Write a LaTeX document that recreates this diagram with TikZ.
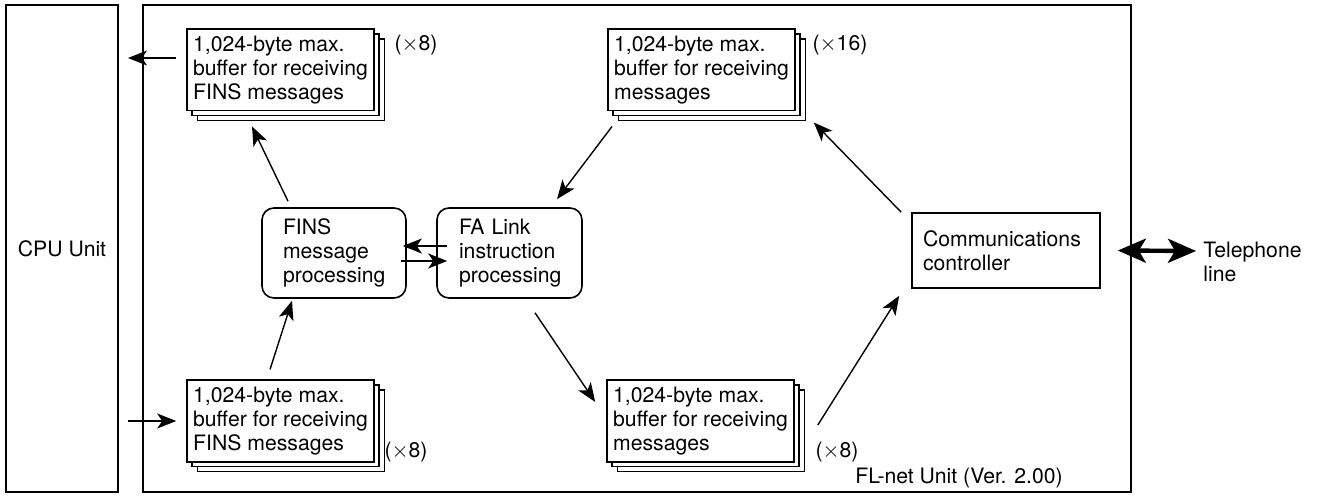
\documentclass[tikz,border=0pt]{standalone}
\usepackage{fontspec}
\setmainfont{TeX Gyre Heros}
\usetikzlibrary{arrows.meta,shadows}
\begin{document}
\begin{tikzpicture}
    [x=0.5pt,y=-0.5pt,
    font=\fontsize{10.6}{12}\selectfont,
    unit/.style={draw,line width=0.8pt,inner sep=0pt},
    buffer/.style={draw,line width=0.8pt,fill=white,align=left,
        minimum width=93.5pt,inner xsep=2pt,minimum height=37pt,
        double copy shadow={shadow xshift=2.6pt,shadow yshift=-2.4pt}},
    proc/.style={draw,line width=0.8pt,rounded corners=6pt,align=left,
        text width=51pt,inner xsep=10.5pt,minimum height=45pt},
    flow/.style={-{Stealth[length=9.5pt,width=7.5pt,inset=2.5pt]},line width=0.7pt},
    phone/.style={{Stealth[length=14pt,width=12pt,inset=3.5pt]}-{Stealth[length=14pt,width=12pt,inset=3.5pt]},line width=2.2pt}]
    \useasboundingbox (0,0) rectangle (1321,496);
    %units
    \node[unit,minimum width=56pt,minimum height=243.5pt] (cpu) at (62,248.5) {CPU Unit};
    \draw[line width=0.8pt] (143,5) rectangle (1131,492);
    \node[anchor=west,inner sep=0pt] (flnet) at (855,478) {FL-net Unit (Ver. 2.00)};
    %buffers
    \node[buffer] (bufTL) at (280.5,70) {1,024-byte max.\\buffer for receiving\\FINS messages};
    \node[buffer] (bufBL) at (280.5,421) {1,024-byte max.\\buffer for receiving\\FINS messages};
    \node[buffer] (bufTR) at (701.5,70) {1,024-byte max.\\buffer for receiving\\messages};
    \node[buffer] (bufBR) at (700.5,421) {1,024-byte max.\\buffer for receiving\\messages};
    \node (nTL) at (416,45) {($\times$8)};
    \node (nBL) at (406,452) {($\times$8)};
    \node (nTR) at (840,45) {($\times$16)};
    \node (nBR) at (837,452) {($\times$8)};
    %processing
    \node[proc] (fins) at (334,253) {FINS\\message\\processing};
    \node[proc,inner xsep=11pt,text width=50.5pt] (fa) at (509.5,253) {FA Link\\instruction\\processing};
    \node[draw,line width=0.8pt,align=left,text width=83pt,inner xsep=5.5pt,minimum height=37.5pt] (ctrl) at (1006,250.5) {Communications\\controller};
    \node[anchor=west,align=left,inner sep=0pt] (tel) at (1203,262) {Telephone\\line};
    %CPU side
    \coordinate (cpuout) at (128,58);
    \coordinate (cpuin) at (128,421);
    \draw[flow] ([xshift=-5pt,yshift=6pt]bufTL.west) -- (cpuout);
    \draw[flow] (cpuin) -- ([xshift=-5pt]bufBL.west);
    %message flow
    \draw[flow] ([xshift=-23pt,yshift=3pt]fins.north) -- ([xshift=-14.25pt,yshift=-7.5pt]bufTL.south);
    \draw[flow] ([xshift=-5.25pt,yshift=5pt]bufBL.north) -- ([xshift=-21pt,yshift=-1pt]fins.south);
    \draw[flow] ([xshift=5.5pt,yshift=3.5pt]fa.west) -- ([xshift=-2pt,yshift=3.5pt]fins.east);
    \draw[flow] ([xshift=-3pt,yshift=-4pt]fins.east) -- ([xshift=5.5pt,yshift=-4pt]fa.west);
    \draw[flow] ([xshift=-44.75pt,yshift=-7.5pt]bufTR.south) -- ([xshift=23.75pt,yshift=4pt]fa.north);
    \draw[flow] ([xshift=12.75pt,yshift=-7pt]fa.south) -- ([xshift=-5.5pt,yshift=9.5pt]bufBR.west);
    \draw[flow] ([xshift=11.5pt,yshift=-2pt]bufBR.east) -- ([xshift=-6pt,yshift=-3.5pt]ctrl.south west);
    \draw[flow] ([xshift=-5pt]ctrl.north west) -- ([xshift=9pt,yshift=-5.5pt]bufTR.south east);
    %telephone line
    \draw[phone] ([xshift=8.5pt]ctrl.east) -- ([xshift=-3.5pt,yshift=5.5pt]tel.west);
\end{tikzpicture}
\end{document}
